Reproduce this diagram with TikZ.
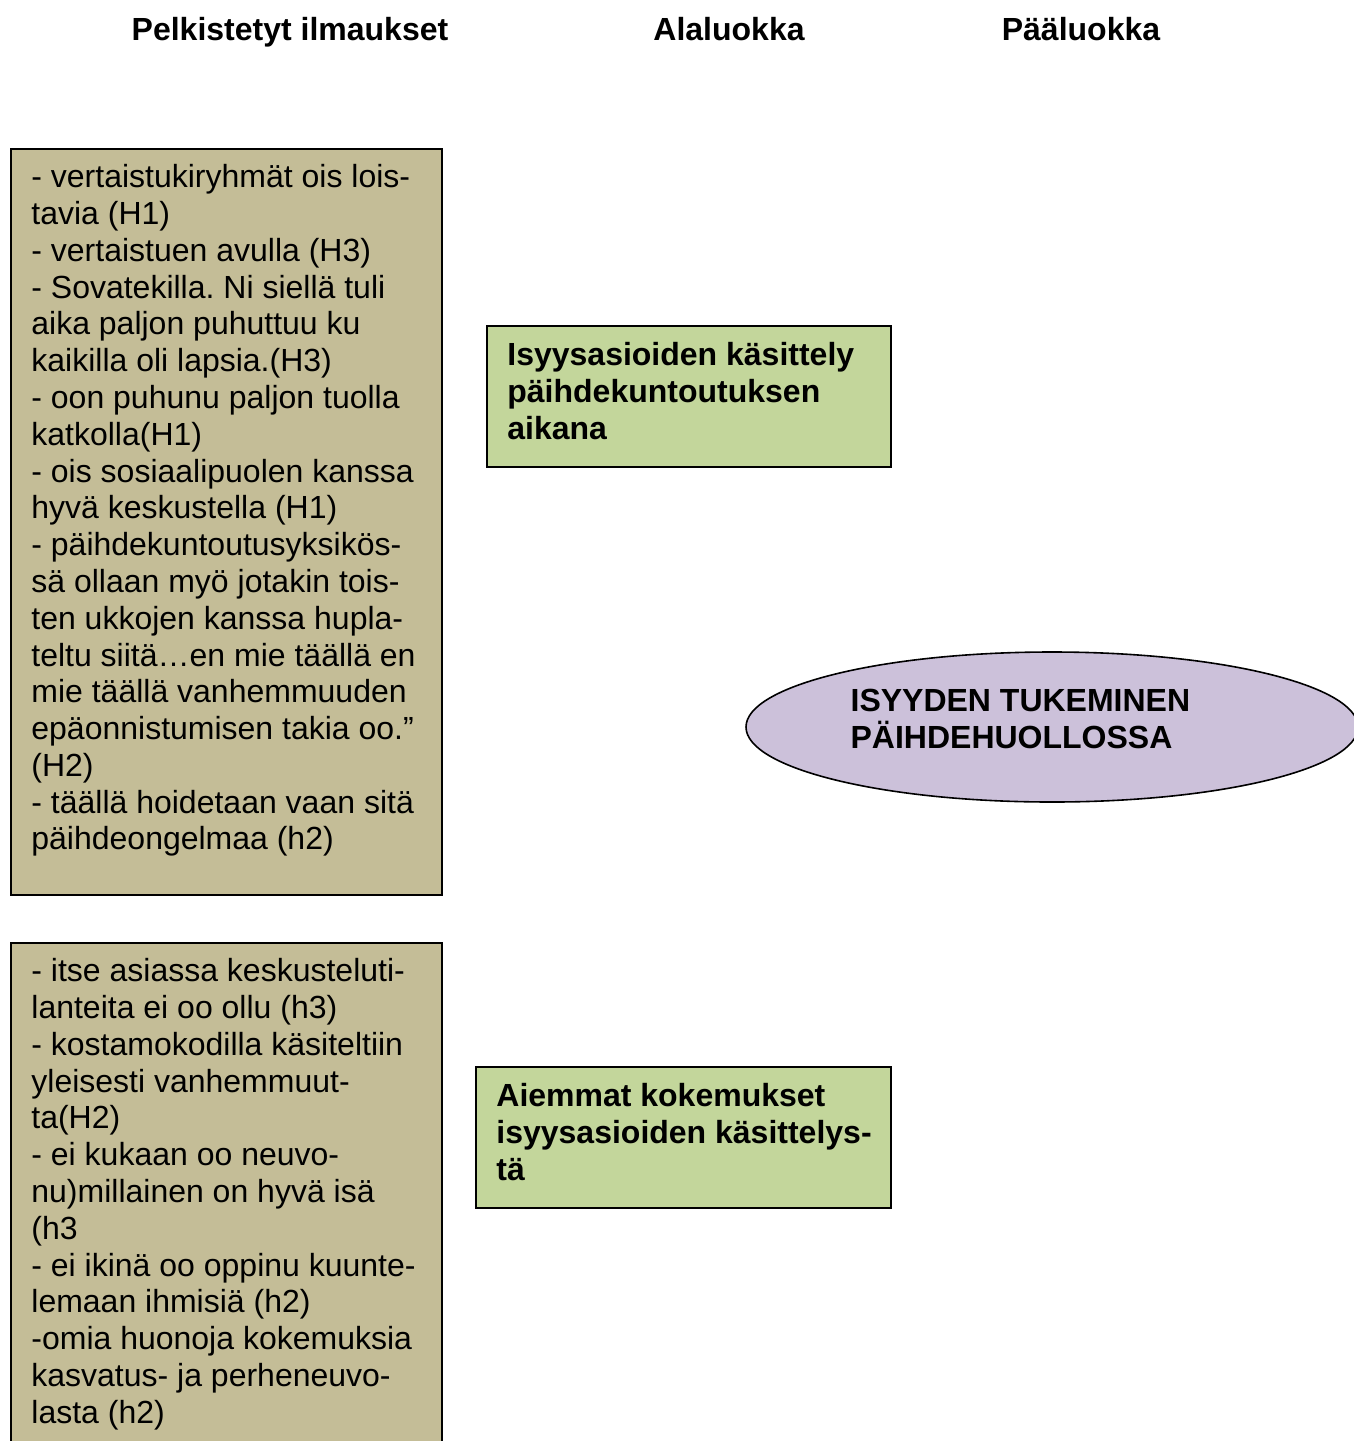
\documentclass[tikz,border=0pt]{standalone}
\usepackage{fontspec}
\setmainfont{Liberation Sans}
\usetikzlibrary{shapes.geometric}
\definecolor{tanfill}{HTML}{C4BD97}
\definecolor{alafill}{HTML}{C3D69B}
\definecolor{paafill}{HTML}{CCC1DA}
\frenchspacing
\tikzset{
  otsikko/.style={font=\bfseries\fontsize{16}{18.4}\selectfont, inner sep=0pt, anchor=base},
  ilmbox/.style={draw, line width=0.8pt, fill=tanfill, anchor=north west, minimum width=215.5pt, inner sep=0pt},
  alabox/.style={draw, line width=0.8pt, fill=alafill, anchor=north west, minimum height=70.5pt, inner sep=0pt},
  paaoval/.style={ellipse, draw, line width=0.8pt, fill=paafill, minimum width=306pt, minimum height=75pt, inner sep=0pt},
  teksti/.style={font=\fontsize{16}{18.4}\selectfont, align=left, inner sep=0pt, anchor=north west},
  bteksti/.style={teksti, font=\bfseries\fontsize{16}{18.4}\selectfont}
}
\begin{document}
\begin{tikzpicture}[x=0.5pt, y=-0.5pt]
      \useasboundingbox (0,0) rectangle (1354,1441);
      \clip (0,0) rectangle (1354,1441);
      % otsikot
      \node[otsikko] (pelk) at (290,40.5) {Pelkistetyt ilmaukset};
      \node[otsikko] (ala) at (729,40.5) {Alaluokka};
      \node[otsikko] (paa) at (1081,40.5) {Pääluokka};
      % pelkistetyt ilmaukset
      \node[ilmbox, minimum height=373pt] (ilm1) at (10,148) {};
      \node[teksti] (ilm1txt) at ([shift={(21,16)}]ilm1.north west) {- vertaistukiryhmät ois lois-\\tavia (H1)\\- vertaistuen avulla (H3)\\- Sovatekilla. Ni siellä tuli\\aika paljon puhuttuu ku\\kaikilla oli lapsia.(H3)\\- oon puhunu paljon tuolla\\katkolla(H1)\\- ois sosiaalipuolen kanssa\\hyvä keskustella (H1)\\- päihdekuntoutusyksikös-\\sä ollaan myö jotakin tois-\\ten ukkojen kanssa hupla-\\teltu siitä…en mie täällä en\\mie täällä vanhemmuuden\\epäonnistumisen takia oo.”\\(H2)\\- täällä hoidetaan vaan sitä\\päihdeongelmaa (h2)};
      \node[ilmbox, minimum height=300pt] (ilm2) at (10,942) {};
      \node[teksti] (ilm2txt) at ([shift={(21,16)}]ilm2.north west) {- itse asiassa keskusteluti-\\lanteita ei oo ollu (h3)\\- kostamokodilla käsiteltiin\\yleisesti vanhemmuut-\\ta(H2)\\- ei kukaan oo neuvo-\\nu)millainen on hyvä isä\\(h3\\- ei ikinä oo oppinu kuunte-\\lemaan ihmisiä (h2)\\-omia huonoja kokemuksia\\kasvatus- ja perheneuvo-\\lasta (h2)};
      % alaluokat
      \node[alabox, minimum width=202pt] (ala1) at (486,325) {};
      \node[bteksti] (ala1txt) at ([shift={(21,17)}]ala1.north west) {Isyysasioiden käsittely\\päihdekuntoutuksen\\aikana};
      \node[alabox, minimum width=207.5pt] (ala2) at (475,1066) {};
      \node[bteksti] (ala2txt) at ([shift={(21,17)}]ala2.north west) {Aiemmat kokemukset\\isyysasioiden käsittelys-\\tä};
      % pääluokka
      \node[paaoval] (paaluokka) at (1052,727) {};
      \node[bteksti] (paatxt) at ([shift={(105,-38)}]paaluokka.west) {ISYYDEN TUKEMINEN\\PÄIHDEHUOLLOSSA};
    \end{tikzpicture}
\end{document}
